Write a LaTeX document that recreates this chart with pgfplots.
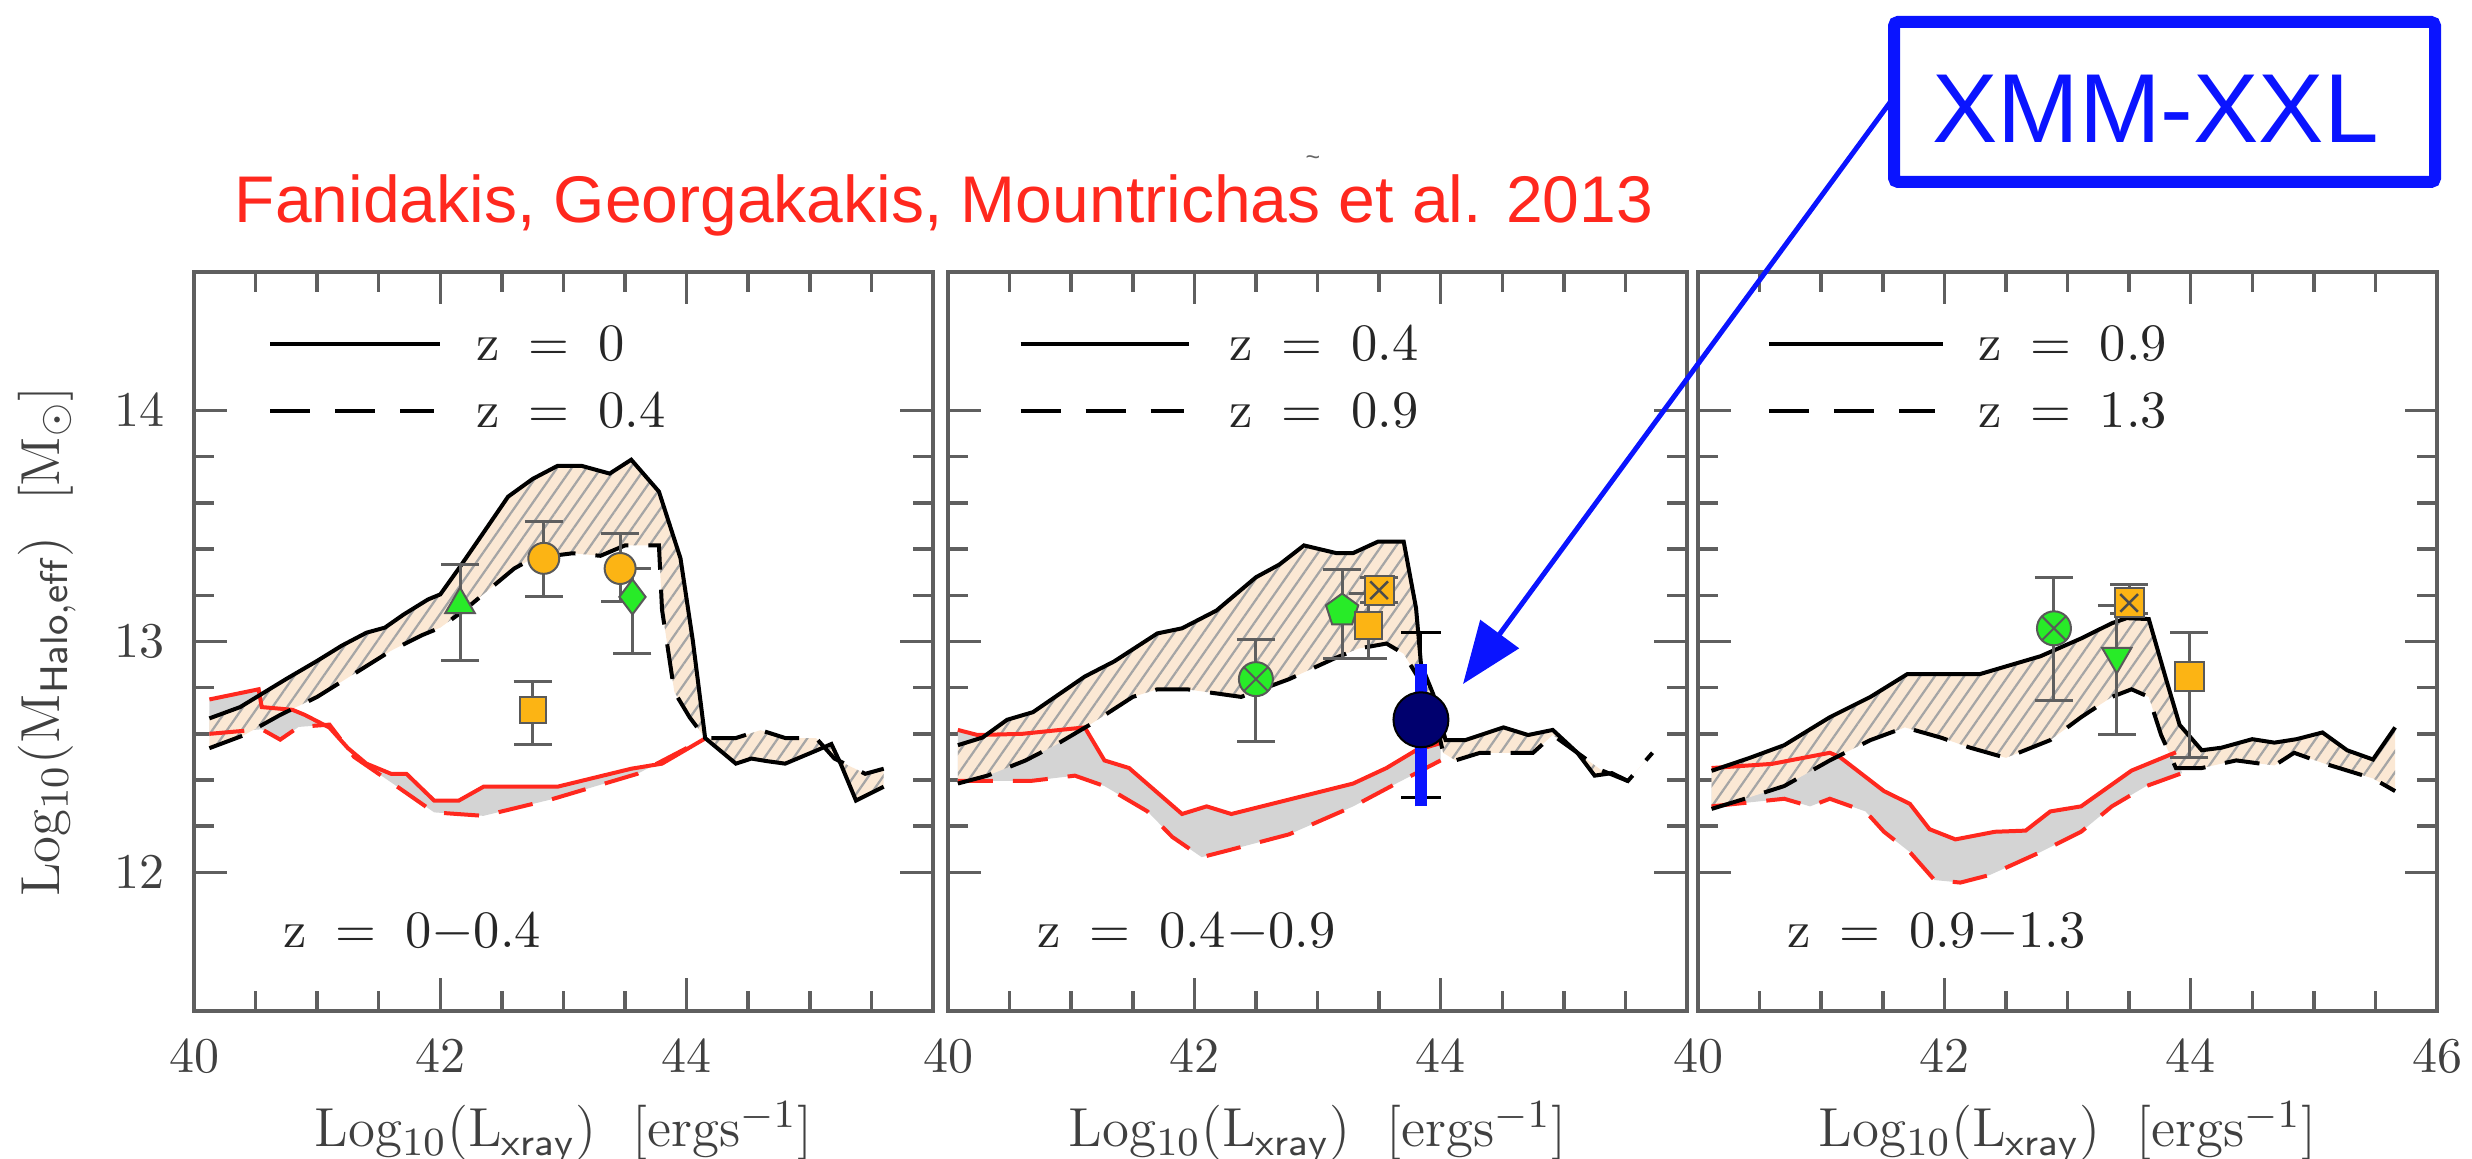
\documentclass[border=0pt]{standalone}
\usepackage{pgfplots}
\pgfplotsset{compat=1.18}
\usepgfplotslibrary{fillbetween}
\usetikzlibrary{patterns.meta, arrows.meta, plotmarks}
\usepackage{fontspec}
\newfontfamily\liber{Liberation Sans}

\definecolor{beige}{RGB}{251,232,212}
\definecolor{hatchgray}{RGB}{165,165,165}
\definecolor{shadegray}{RGB}{212,212,212}
\definecolor{lred}{RGB}{255,40,30}
\definecolor{morange}{RGB}{252,180,20}
\definecolor{mgreen}{RGB}{40,235,40}
\definecolor{mnavy}{RGB}{0,0,110}
\definecolor{xblue}{RGB}{10,20,255}
\definecolor{framegray}{RGB}{95,95,95}

\newcommand{\zz}[1]{z\hspace{0.55em}=\hspace{0.55em}#1}
\tikzset{lab/.style={font=\fontsize{10.5}{12}\selectfont, text=black!85}}

\pgfplotsset{
  panel/.style={
    scale only axis, width=147.8pt, height=147.8pt,
    xmin=40, xmax=46, ymin=11.4, ymax=14.6,
    xtick={40,42,44,46}, ytick={12,13,14},
    minor x tick num=3, minor y tick num=4,
    tick align=inside, xtick pos=both, ytick pos=both,
    major tick length=6.5pt, minor tick length=4pt,
    axis line style={framegray, line width=0.7pt},
    tick style={framegray, line width=0.7pt},
    tick label style={font=\fontsize{10}{12}\selectfont, text=black!75},
    xticklabel style={yshift=-2pt},
    yticklabel style={xshift=-2.3pt},
    xlabel={Log$_{10}$(L$_{\mathsf{xray}}$)~~[ergs$^{-1}$]},
    label style={font=\fontsize{11}{13}\selectfont, text=black!75},
    xlabel style={at={(axis description cs:0.5,-0.184)}, anchor=base},
  },
  solidc/.style={black, line width=0.8pt},
  dashc/.style={black, line width=0.8pt, dash pattern=on 7pt off 4pt},
  redsolid/.style={lred, line width=0.8pt},
  reddash/.style={lred, line width=0.8pt, dash pattern=on 7pt off 4pt},
  hatch/.style={pattern={Lines[angle=55,distance=2.4pt,line width=0.45pt]}, pattern color=hatchgray},
  ebar/.style={error bars/.cd, y dir=both, y explicit,
    error bar style={framegray, line width=0.6pt},
    error mark options={rotate=90, mark size=3.8pt, framegray, line width=0.6pt}},
  mk/.style={only marks, mark options={draw=black!65, line width=0.4pt, fill=#1}},
}

\begin{document}
\begin{tikzpicture}

% ---------------- panel 1: z = 0-0.4
\begin{axis}[panel, at={(38.8pt,29.6pt)}, anchor=south west,
  xticklabels={40,42,44,},
  ylabel={Log$_{10}$(M$_{\mathsf{Halo,eff}}$)~~[M$_\odot$]},
  ylabel style={at={(axis description cs:-0.199,0.5)}, anchor=center}]
\addplot[redsolid, name path=rs1] coordinates {
(40.125,12.749) (40.525,12.793) (40.55,12.716) (40.8,12.704) (40.9,12.682)
(41.1,12.627) (41.25,12.538) (41.4,12.471) (41.6,12.427) (41.725,12.427)
(41.95,12.311) (42.15,12.311) (42.35,12.371) (42.95,12.371) (43.55,12.449)
(43.8,12.471) (44.15,12.58)};
\addplot[reddash, name path=rd1] coordinates {
(40.125,12.60) (40.55,12.62) (40.7,12.575) (40.85,12.63) (41.1,12.64)
(41.3,12.50) (41.6,12.39) (41.95,12.26) (42.35,12.245) (42.9,12.316)
(43.6,12.427) (44.15,12.58)};
\addplot[solidc, name path=s1] coordinates {
(40.125,12.667) (40.375,12.716) (40.75,12.838) (41.0,12.916) (41.2,12.982)
(41.4,13.038) (41.55,13.06) (41.7,13.116) (41.9,13.182) (42.0,13.204)
(42.15,13.316) (42.35,13.471) (42.55,13.627) (42.75,13.704) (42.95,13.76)
(43.15,13.76) (43.375,13.727) (43.55,13.787) (43.775,13.649) (43.95,13.36)
(44.05,13.004) (44.15,12.582) (44.4,12.471) (44.525,12.493) (44.65,12.482)
(44.8,12.471) (45.05,12.527) (45.175,12.556) (45.25,12.471) (45.375,12.311)
(45.6,12.371)};
\addplot[dashc, name path=d1] coordinates {
(40.125,12.538) (40.4,12.593) (40.7,12.682) (41.0,12.76) (41.3,12.86)
(41.6,12.96) (41.85,13.027) (42.0,13.06) (42.2,13.138) (42.4,13.227)
(42.6,13.316) (42.75,13.36) (43.075,13.382) (43.3,13.371) (43.5,13.416)
(43.775,13.416) (43.8,13.138) (43.9,12.782) (44.025,12.671) (44.15,12.582)
(44.4,12.582) (44.6,12.616) (44.8,12.582) (45.05,12.582) (45.2,12.493)
(45.45,12.427) (45.6,12.449)};
\addplot[shadegray] fill between[of=rs1 and rd1];
\addplot[beige] fill between[of=s1 and d1];
\addplot[hatch] fill between[of=s1 and d1];
% data points
\addplot[mk=mgreen, mark=triangle*, mark size=3.4pt, ebar] coordinates {(42.16,13.16) += (0,0.173) -= (0,0.244)};
\addplot[mk=morange, mark=*, mark size=3.1pt, ebar] coordinates {(42.84,13.36) += (0,0.16) -= (0,0.167)};
\addplot[mk=morange, mark=*, mark size=3.1pt, ebar] coordinates {(43.46,13.316) += (0,0.151) -= (0,0.145)};
\addplot[mk=mgreen, mark=diamond*, mark size=3.5pt, ebar] coordinates {(43.56,13.193) += (0,0.123) -= (0,0.244)};
\addplot[mk=morange, mark=square*, mark size=2.6pt, ebar] coordinates {(42.75,12.704) += (0,0.123) -= (0,0.148)};
% legend
\addplot[solidc] coordinates {(40.62,14.29) (42.0,14.29)};
\addplot[dashc, dash pattern=on 8pt off 5pt] coordinates {(40.62,14.0) (41.95,14.0)};
\node[lab, anchor=west] at (axis cs:42.15,14.29) {\zz{0}};
\node[lab, anchor=west] at (axis cs:42.15,14.0) {\zz{0.4}};
\node[lab, anchor=west] at (axis cs:40.58,11.74) {\zz{0$-$0.4}};
\end{axis}

% ---------------- panel 2: z = 0.4-0.9
\begin{axis}[panel, at={(189.6pt,29.6pt)}, anchor=south west,
  xticklabels={40,42,44,}, yticklabels={}]
\addplot[redsolid, name path=rs2] coordinates {
(40.08,12.617) (40.24,12.595) (40.6,12.60) (41.11,12.628) (41.27,12.485)
(41.47,12.452) (41.90,12.253) (42.10,12.286) (42.30,12.253) (43.29,12.385)
(43.56,12.452) (43.80,12.529) (44.0,12.56)};
\addplot[reddash, name path=rd2] coordinates {
(40.08,12.396) (40.36,12.396) (40.67,12.396) (41.03,12.419) (41.27,12.374)
(41.62,12.264) (41.82,12.154) (42.06,12.066) (42.30,12.099) (42.77,12.165)
(43.29,12.286) (43.60,12.374) (44.0,12.485)};
\addplot[solidc, name path=s2] coordinates {
(40.08,12.551) (40.28,12.584) (40.48,12.661) (40.69,12.694) (40.87,12.76)
(41.11,12.848) (41.35,12.914) (41.70,13.035) (41.90,13.057) (42.18,13.134)
(42.50,13.278) (42.69,13.333) (42.89,13.416) (43.15,13.383) (43.29,13.383)
(43.49,13.432) (43.70,13.432) (43.80,13.145) (43.84,12.903) (43.94,12.771)
(44.04,12.573) (44.20,12.573) (44.51,12.628) (44.71,12.595) (44.91,12.617)
(45.11,12.518) (45.25,12.419) (45.39,12.430) (45.52,12.396)};
\addplot[dashc, name path=d2] coordinates {
(40.08,12.385) (40.32,12.419) (40.63,12.485) (40.87,12.551) (41.15,12.639)
(41.50,12.760) (41.70,12.793) (41.94,12.793) (42.38,12.760) (42.77,12.837)
(43.13,12.925) (43.33,12.969) (43.56,12.991) (43.70,12.947) (43.80,12.859)
(43.88,12.771) (43.96,12.661) (44.02,12.518) (44.12,12.485) (44.32,12.518)
(44.75,12.518) (44.91,12.595) (45.11,12.518) (45.31,12.441) (45.52,12.396)
(45.72,12.518)};
\addplot[shadegray] fill between[of=rs2 and rd2];
\addplot[beige] fill between[of=s2 and d2];
\addplot[hatch] fill between[of=s2 and d2];
% data points
\addplot[mk=mgreen, mark=otimes*, mark size=3.4pt, ebar] coordinates {(42.50,12.837) += (0,0.172) -= (0,0.269)};
\addplot[mk=mgreen, mark=pentagon*, mark size=3.4pt, ebar] coordinates {(43.20,13.134) += (0,0.176) -= (0,0.209)};
\addplot[mk=morange, mark=square*, mark size=2.7pt, ebar] coordinates {(43.41,13.068) += (0,0.14) -= (0,0.143)};
\addplot[mk=morange, mark=square*, mark size=2.9pt, ebar] coordinates {(43.50,13.222) += (0,0.056) -= (0,0.055)};
\addplot[only marks, mark=x, mark size=2.5pt, mark options={draw=black!70, line width=0.5pt}] coordinates {(43.50,13.222)};
\addplot[only marks, mark=*, mark size=5.5pt, mark options={fill=mnavy, draw=black, line width=0.4pt},
  error bars/.cd, y dir=both, y explicit, error bar style={black, line width=0.6pt},
  error mark options={rotate=90, mark size=4pt, black, line width=0.6pt}]
  coordinates {(43.84,12.661) += (0,0.379) -= (0,0.335)};
\addplot[xblue, line width=2.4pt] coordinates {(43.84,12.286) (43.84,12.903)};
% legend
\addplot[solidc] coordinates {(40.59,14.29) (41.96,14.29)};
\addplot[dashc, dash pattern=on 8pt off 5pt] coordinates {(40.59,14.0) (41.92,14.0)};
\node[lab, anchor=west] at (axis cs:42.14,14.29) {\zz{0.4}};
\node[lab, anchor=west] at (axis cs:42.14,14.0) {\zz{0.9}};
\node[lab, anchor=west] at (axis cs:40.58,11.74) {\zz{0.4$-$0.9}};
\end{axis}

% ---------------- panel 3: z = 0.9-1.3
\begin{axis}[panel, at={(339.6pt,29.6pt)}, anchor=south west,
  xticklabels={40,42,44,46}, yticklabels={}]
\addplot[redsolid, name path=rs3] coordinates {
(40.11,12.452) (40.6,12.47) (41.07,12.518) (41.15,12.50) (41.51,12.352)
(41.72,12.297) (41.88,12.187) (42.09,12.143) (42.41,12.176) (42.66,12.181)
(42.86,12.264) (43.11,12.286) (43.52,12.441) (43.88,12.52)};
\addplot[reddash, name path=rd3] coordinates {
(40.11,12.286) (40.70,12.319) (40.91,12.286) (41.07,12.319) (41.36,12.264)
(41.51,12.176) (41.72,12.088) (41.92,11.967) (42.13,11.956) (42.37,11.989)
(42.78,12.088) (43.11,12.176) (43.36,12.286) (43.64,12.374) (43.93,12.430)};
\addplot[solidc, name path=s3] coordinates {
(40.11,12.440) (40.42,12.496) (40.70,12.551) (41.07,12.672) (41.40,12.760)
(41.70,12.859) (42.29,12.859) (42.50,12.892) (42.78,12.936) (43.11,13.013)
(43.36,13.079) (43.48,13.101) (43.66,13.097) (43.80,12.837) (43.91,12.639)
(44.09,12.529) (44.25,12.540) (44.50,12.577) (44.68,12.562) (44.86,12.577)
(45.07,12.606) (45.27,12.529) (45.48,12.489) (45.66,12.628)};
\addplot[dashc, name path=d3] coordinates {
(40.11,12.275) (40.38,12.319) (40.70,12.374) (41.07,12.485) (41.40,12.573)
(41.68,12.628) (41.97,12.584) (42.21,12.540) (42.50,12.496) (42.86,12.573)
(43.11,12.672) (43.36,12.760) (43.52,12.793) (43.66,12.760) (43.76,12.595)
(43.88,12.452) (44.09,12.452) (44.37,12.485) (44.68,12.463) (44.84,12.518)
(45.07,12.474) (45.48,12.407) (45.66,12.352)};
\addplot[shadegray] fill between[of=rs3 and rd3];
\addplot[beige] fill between[of=s3 and d3];
\addplot[hatch] fill between[of=s3 and d3];
% data points
\addplot[mk=mgreen, mark=otimes*, mark size=3.4pt, ebar] coordinates {(42.89,13.057) += (0,0.221) -= (0,0.313)};
\addplot[only marks, mark=triangle*, mark size=3.4pt,
  mark options={draw=black!65, line width=0.4pt, fill=mgreen, rotate=180}, ebar]
  coordinates {(43.40,12.936) += (0,0.22) -= (0,0.337)};
\addplot[mk=morange, mark=square*, mark size=2.9pt, ebar] coordinates {(43.50,13.167) += (0,0.078) -= (0,0.047)};
\addplot[only marks, mark=x, mark size=2.5pt, mark options={draw=black!70, line width=0.5pt}] coordinates {(43.50,13.167)};
\addplot[mk=morange, mark=square*, mark size=2.9pt, ebar] coordinates {(43.99,12.848) += (0,0.192) -= (0,0.352)};
% legend
\addplot[solidc] coordinates {(40.58,14.29) (41.99,14.29)};
\addplot[dashc, dash pattern=on 8pt off 5pt] coordinates {(40.58,14.0) (41.92,14.0)};
\node[lab, anchor=west] at (axis cs:42.13,14.29) {\zz{0.9}};
\node[lab, anchor=west] at (axis cs:42.13,14.0) {\zz{1.3}};
\node[lab, anchor=west] at (axis cs:40.58,11.74) {\zz{0.9$-$1.3}};
\end{axis}

% ---------------- title and XMM-XXL call-out
\node[anchor=base, text=lred, font=\liber\fontsize{13.2}{15}\selectfont, inner sep=0pt]
  at (188.8pt,187.2pt) {Fanidakis, Georgakakis, Mountrichas et al. 2013};
\node[text=black!60, font=\liber\fontsize{5}{6}\selectfont, inner sep=0pt]
  at (262.6pt,199.6pt) {\textasciitilde};
\draw[xblue, line width=2.4pt, rounded corners=0.8pt] (378.8pt,195.4pt) rectangle (487pt,227.4pt);
\node[anchor=base, text=xblue, font=\liber\fontsize{19.6}{22}\selectfont, inner sep=0pt]
  at (431.1pt,203.2pt) {XMM-XXL};
\draw[xblue, line width=1pt, -{Triangle[length=12.4pt, width=9.4pt]}]
  (378.8pt,212.4pt) -- (292.6pt,95pt);

\pgfresetboundingbox
\path (0,0) rectangle (494.4pt,231.8pt);
\end{tikzpicture}
\end{document}
